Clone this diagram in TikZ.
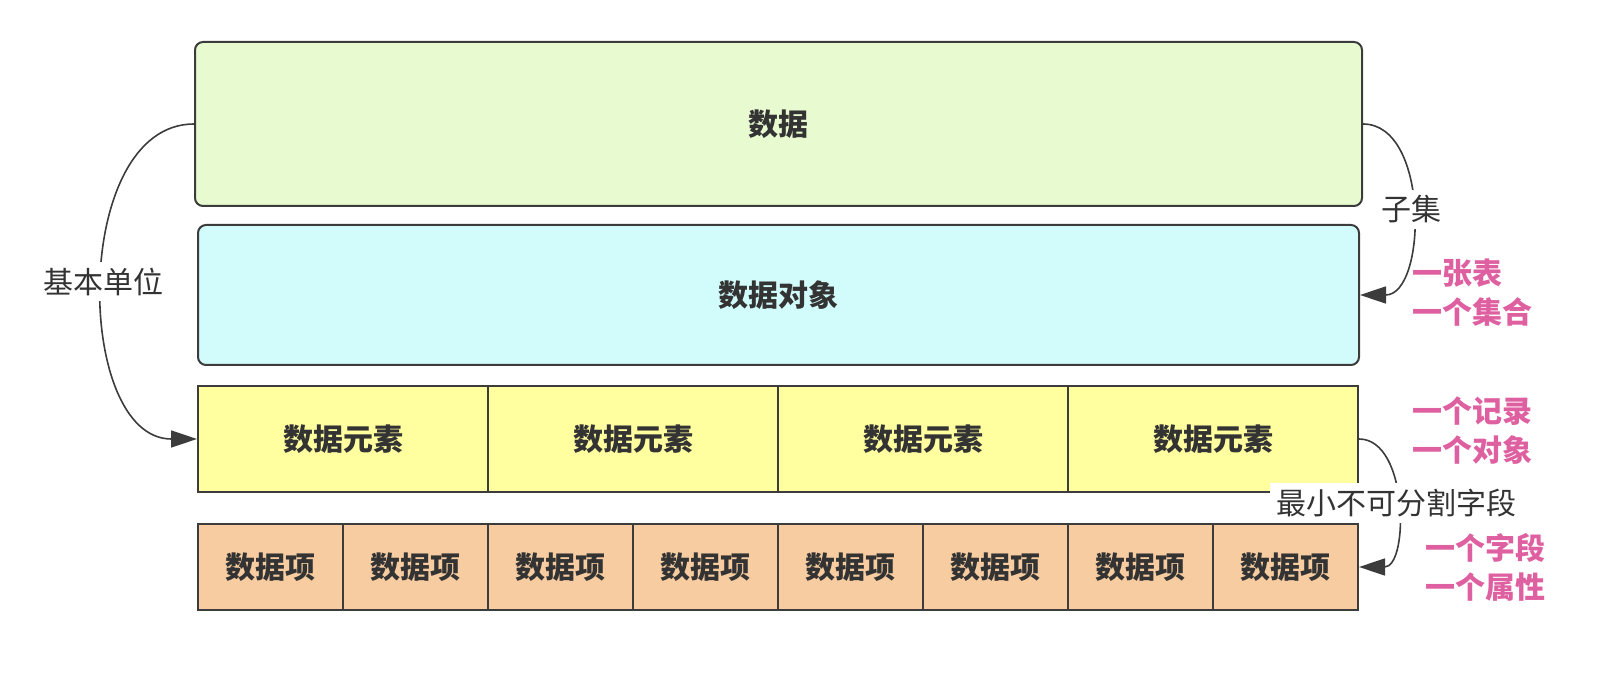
\documentclass[tikz,border=0pt]{standalone}
\usepackage{fontspec}
\setmainfont{Noto Sans CJK SC}
\usetikzlibrary{arrows.meta}
\definecolor{datagreen}{RGB}{232,251,208}
\definecolor{objcyan}{RGB}{210,252,252}
\definecolor{elemyellow}{RGB}{255,255,160}
\definecolor{itemorange}{RGB}{247,204,160}
\definecolor{edgegray}{RGB}{60,60,60}
\definecolor{notepink}{RGB}{222,96,160}
\tikzset{
  box/.style={draw=edgegray,line width=1pt,inner sep=0pt,text=black!80,
    font=\fontsize{15}{17}\selectfont\bfseries},
  bigbox/.style={box,rounded corners=4pt},
  elembox/.style={box,fill=elemyellow,minimum width=145pt,minimum height=53pt},
  itembox/.style={box,fill=itemorange,minimum width=72.5pt,minimum height=43pt},
  link/.style={->,draw=edgegray,line width=0.8pt},
  lbl/.style={fill=white,inner xsep=3pt,inner ysep=3pt,text=black!80,
    font=\fontsize{15}{17}\selectfont},
  note/.style={anchor=west,align=left,text=notepink,inner sep=0pt,
    font=\fontsize{15}{19.5}\selectfont\bfseries}
}

\begin{document}
\begin{tikzpicture}[x=0.5pt,y=-0.5pt,>={Triangle[length=13pt,width=8.5pt]}]
  \useasboundingbox (0,0) rectangle (1624,678);
  % Top two boxes
  \node[bigbox,fill=datagreen,minimum width=583.5pt,minimum height=82pt] (data) at (778.5,124) {数据};
  \node[bigbox,fill=objcyan,minimum width=580.5pt,minimum height=70pt] (dobj) at (778.5,295) {数据对象};
  % Row of data elements
  \foreach \i in {1,...,4}
    \node[elembox] (e\i) at ({343+(\i-1)*290},439) {数据元素};
  % Row of data items
  \foreach \i in {1,...,8}
    \node[itembox] (it\i) at ({270.5+(\i-1)*145},567) {数据项};
  % Curved connectors
  \draw[link] (data.west) to[out=180,in=180] node[lbl] {基本单位} (e1.west);
  \draw[link] (data.east) to[out=0,in=0] node[lbl] {子集} (dobj.east);
  \draw[link] (e4.east) to[out=0,in=0] node[lbl] {最小不可分割字段} (it8.east);
  % Side notes
  \node[note] (n1) at (1412,292.5) {一张表\\一个集合};
  \node[note] (n2) at (1412,431) {一个记录\\一个对象};
  \node[note] (n3) at (1425,567.5) {一个字段\\一个属性};
\end{tikzpicture}
\end{document}
